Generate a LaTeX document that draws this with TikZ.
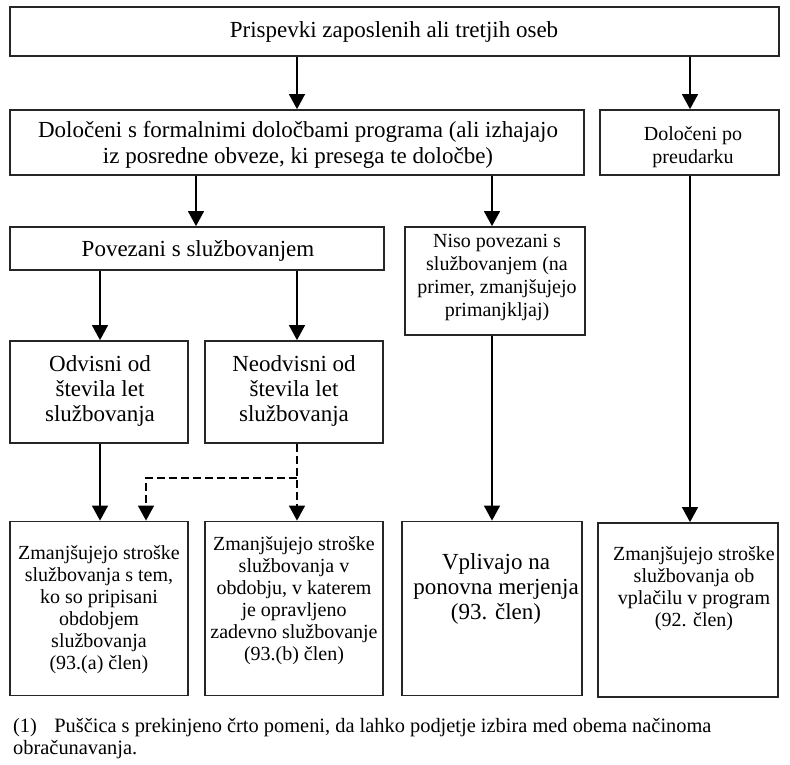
\documentclass[tikz,border=0pt]{standalone}
\usepackage{fontspec}
\setmainfont{Liberation Serif}
\usetikzlibrary{arrows.meta}
\newcommand{\fsz}[2]{\fontsize{#1}{#2}\selectfont}
\tikzset{
  box/.style={draw=black!85, line width=1.8pt, rectangle, inner sep=0pt},
  txt/.style={align=center, inner sep=0pt},
  arr/.style={line width=1.5pt, -{Triangle[width=16pt,length=15pt]}},
  darr/.style={arr, dash pattern=on 8pt off 4pt},
}
\begin{document}
\begin{tikzpicture}[x=1pt,y=-1pt]
\useasboundingbox (0,0) rectangle (790,764);
% boxes
\node[box, minimum width=769pt, minimum height=49pt] (top) at (394.5,31.5) {};
\node[box, minimum width=574pt, minimum height=65pt] (form) at (297,142.5) {};
\node[box, minimum width=179pt, minimum height=65pt] (preud) at (689.5,142.5) {};
\node[box, minimum width=374pt, minimum height=43pt] (pov) at (197,248.5) {};
\node[box, minimum width=180pt, minimum height=108pt] (niso) at (495,281) {};
\node[box, minimum width=178pt, minimum height=102pt] (odv) at (99,392) {};
\node[box, minimum width=178pt, minimum height=102pt] (neodv) at (294,392) {};
\node[box, minimum width=178pt, minimum height=174pt] (b1) at (99,608.5) {};
\node[box, minimum width=178pt, minimum height=174pt] (b2) at (294,608.5) {};
\node[box, minimum width=180pt, minimum height=174pt] (b3) at (492,608.5) {};
\node[box, minimum width=180pt, minimum height=174pt] (b4) at (688,610) {};
% texts
\node[txt, font=\fsz{23}{27}] (ttop) at (394,32) {Prispevki zaposlenih ali tretjih oseb};
\node[txt, font=\fsz{23}{26.5}] (tform) at (298,145) {Določeni s formalnimi določbami programa (ali izhajajo\\iz posredne obveze, ki presega te določbe)};
\node[txt, font=\fsz{20}{23}] (tpreud) at (693,147) {Določeni po\\preudarku};
\node[txt, font=\fsz{23}{27}] (tpov) at (198,251) {Povezani s službovanjem};
\node[txt, font=\fsz{20}{23}] (tniso) at (497,277) {Niso povezani s\\službovanjem (na\\primer, zmanjšujejo\\primanjkljaj)};
\node[txt, font=\fsz{23}{25}] (todv) at (100,391) {Odvisni od\\števila let\\službovanja};
\node[txt, font=\fsz{23}{25}] (tneodv) at (294,391) {Neodvisni od\\števila let\\službovanja};
\node[txt, font=\fsz{20}{22}] (tb1) at (99,610) {Zmanjšujejo stroške\\službovanja s tem,\\ko so pripisani\\obdobjem\\službovanja\\(93.(a) člen)};
\node[txt, font=\fsz{20}{22}] (tb2) at (294,601) {Zmanjšujejo stroške\\službovanja v\\obdobju, v katerem\\je opravljeno\\zadevno službovanje\\(93.(b) člen)};
\node[txt, font=\fsz{23}{25}] (tb3) at (496,589) {Vplivajo na\\ponovna merjenja\\(93. člen)};
\node[txt, font=\fsz{20}{22}] (tb4) at (694,589) {Zmanjšujejo stroške\\službovanja ob\\vplačilu v program\\(92. člen)};
\node[anchor=north west, align=left, inner sep=0pt, font=\fsz{20.4}{22.5}] (foot) at (13,718) {(1)\hspace{0.85em}Puščica s prekinjeno črto pomeni, da lahko podjetje izbira med obema načinoma\\obračunavanja.};
% connectors
\draw[arr] (top.south -| 297,0) -- (form.north -| 297,0);
\draw[arr] (top.south -| 690,0) -- (preud.north -| 690,0);
\draw[arr] (form.south -| 196,0) -- (pov.north -| 196,0);
\draw[arr] (form.south -| 492,0) -- (niso.north -| 492,0);
\draw[arr] (pov.south -| 100,0) -- (odv.north -| 100,0);
\draw[arr] (pov.south -| 297,0) -- (neodv.north -| 297,0);
\draw[arr] (odv.south -| 100,0) -- (b1.north -| 100,0);
\draw[arr] (niso.south -| 492,0) -- (b3.north -| 492,0);
\draw[arr] (preud.south -| 690,0) -- (b4.north -| 690,0);
\coordinate (split) at (297,478);
\draw[darr] (neodv.south -| 297,0) -- (b2.north -| 297,0);
\draw[darr] (split) -- (146,478) -- (b1.north -| 146,0);
\end{tikzpicture}
\end{document}
